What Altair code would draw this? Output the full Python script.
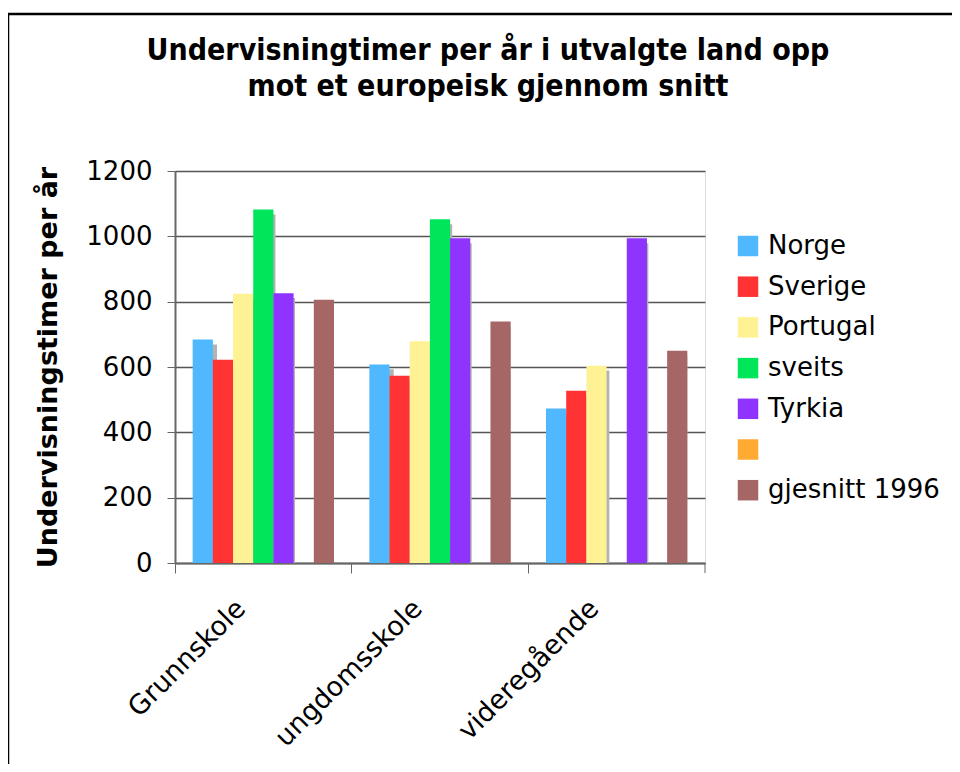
import altair as alt
import pandas as pd

categories = ["Grunnskole", "ungdomsskole", "videregående"]
series = ["Norge", "Sverige", "Portugal", "sveits", "Tyrkia", " ", "gjesnitt 1996"]
norge = [684, 608, 473]
sverige = [622, 573, 527]
portugal = [824, 679, 604]
sveits = [1082, 1052, None]
tyrkia = [826, 994, 994]
tom = [None, None, None]
gjesnitt = [806, 739, 650]
colors = ["#4fb8ff", "#ff3333", "#fff294", "#00e65a", "#8f33ff", "#ffaa33", "#a66666"]
y_ticks = [0, 200, 400, 600, 800, 1000, 1200]

values = [norge, sverige, portugal, sveits, tyrkia, tom, gjesnitt]
rows = []
for s, vals in zip(series, values):
    for c, v in zip(categories, vals):
        rows.append({"kategori": c, "land": s, "timer": v})
df = pd.DataFrame(rows)

FONT = "DejaVu Sans"

x_enc = alt.X(
    "kategori:N",
    sort=categories,
    scale=alt.Scale(paddingInner=0.2, paddingOuter=0.1),
    axis=alt.Axis(
        title=None,
        bandPosition=-0.125,
        labelAngle=-45,
        labelAlign="right",
        labelBaseline="middle",
        labelOffset=-22,
        labelPadding=31,
        labelFontSize=27,
        labelFont=FONT,
        labelColor="black",
        labelLimit=0,
        tickSize=10,
        tickColor="#666666",
        domainColor="#666666",
        domainWidth=2,
        grid=False,
    ),
)

y_axis = alt.Axis(
    title="Undervisningstimer per år",
    titleFont=FONT,
    titleFontSize=27,
    titleFontWeight="bold",
    titleColor="black",
    titleAngle=270,
    titleAlign="center",
    titleBaseline="middle",
    titleX=-127,
    titleY=196,
    values=y_ticks,
    format="d",
    labelFontSize=26,
    labelFont=FONT,
    labelColor="black",
    labelPadding=15,
    tickSize=8,
    tickColor="#666666",
    domainColor="#666666",
    domainWidth=2,
    grid=True,
    gridColor="#555555",
    gridWidth=1.3,
)

base = alt.Chart(df)

shadow = base.transform_filter("isValid(datum.timer)").transform_calculate(
    sh="datum.timer - 15"
).mark_bar(color="#b3b3b3").encode(
    x=x_enc,
    xOffset=alt.XOffset(
        "land:N",
        scale=alt.Scale(domain=series, paddingInner=0, paddingOuter=0.125, align=1),
    ),
    y=alt.Y("sh:Q", scale=alt.Scale(domain=[0, 1200]), axis=y_axis),
)

bars = base.mark_bar().encode(
    x=x_enc,
    xOffset=alt.XOffset(
        "land:N", scale=alt.Scale(domain=series, paddingInner=0, paddingOuter=0)
    ),
    y=alt.Y("timer:Q", scale=alt.Scale(domain=[0, 1200]), axis=y_axis),
    color=alt.Color(
        "land:N",
        scale=alt.Scale(domain=series, range=colors),
        legend=alt.Legend(
            title=None,
            orient="none",
            legendX=560,
            legendY=62,
            symbolType="square",
            symbolSize=420,
            symbolStrokeWidth=0,
            symbolOpacity=1,
            labelFontSize=26,
            labelFont=FONT,
            labelColor="black",
            labelOffset=7,
            labelLimit=0,
            rowPadding=14.7,
            padding=0,
        ),
    ),
)

end_tick = alt.Chart(alt.Data(values=[{}])).mark_rule(
    color="#666666", strokeWidth=1
).encode(x=alt.value(530), y=alt.value(392), y2=alt.value(402))

frame_top = alt.Chart(alt.Data(values=[{}])).mark_rule(
    color="black", strokeWidth=2.5
).encode(x=alt.value(-167), x2=alt.value(800), y=alt.value(-157))
frame_left = alt.Chart(alt.Data(values=[{}])).mark_rule(
    color="black", strokeWidth=2.5
).encode(x=alt.value(-167), y=alt.value(-157), y2=alt.value(620))

chart = (
    alt.layer(frame_top, frame_left, end_tick, shadow, bars)
    .resolve_scale(xOffset="independent")
    .properties(
        width=530,
        height=392,
        autosize=alt.AutoSizeParams(type="none"),
        padding={"left": 167, "top": 163, "right": 247, "bottom": 201},
        title=alt.Title(
            ["Undervisningtimer per år i utvalgte land opp", "mot et europeisk gjennom snitt"],
            font="DejaVu Sans Condensed",
            fontSize=30,
            fontWeight="bold",
            color="black",
            anchor="middle",
            frame="group",
            dx=48,
            dy=89,
            offset=0,
            lineHeight=36,
        ),
    )
    .configure_view(fill="#d4d4d4", stroke="#999999", strokeWidth=2)
    .configure(background="white")
)

chart.save("out.html", embed_options={"renderer": "svg", "actions": False})
